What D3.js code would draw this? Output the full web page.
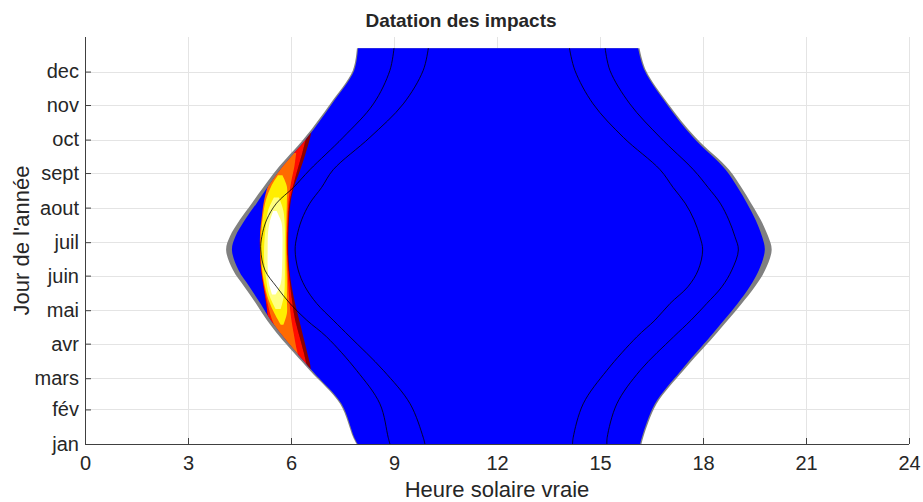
<!DOCTYPE html>
<html>
<head>
<meta charset="utf-8">
<script src="https://cdn.jsdelivr.net/npm/d3@7"></script>
<style>
    body { margin: 0; background: #fff; }
    text { font-family: "Liberation Sans", Arial, Helvetica, sans-serif; fill: #262626; }
</style>
</head>
<body>
<div id="chart"></div>
<script>
// axis ticks
const monthDays = [1, 32, 60, 91, 121, 152, 182, 213, 244, 274, 305, 335];
const monthLabels = ["jan", "fév", "mars", "avr", "mai", "juin", "juil", "aout", "sept", "oct", "nov", "dec"];
const hourTicks = [0, 3, 6, 9, 12, 15, 18, 21, 24];

// day limits (hours) : gray = outer limit, blue = inner limit
const edgeDays = [1, 7, 37, 67, 97, 112, 127, 142, 157, 175, 187, 202, 217, 231, 247, 276, 306, 336, 356];
const grayStart = [7.91, 7.81, 7.43, 6.55, 5.68, 5.30, 4.98, 4.64, 4.31, 4.11, 4.22, 4.51, 4.86, 5.19, 5.58, 6.41, 7.14, 7.80, 7.92];
const blueStart = [7.94, 7.84, 7.47, 6.61, 5.78, 5.41, 5.11, 4.79, 4.47, 4.28, 4.38, 4.66, 5.00, 5.31, 5.68, 6.48, 7.19, 7.84, 7.95];
const grayEnd = [16.21, 16.26, 16.65, 17.43, 18.30, 18.72, 19.13, 19.51, 19.81, 20.00, 19.90, 19.68, 19.40, 19.12, 18.76, 17.78, 16.99, 16.34, 16.15];
const blueEnd = [16.17, 16.22, 16.60, 17.36, 18.20, 18.61, 19.01, 19.36, 19.63, 19.80, 19.72, 19.53, 19.28, 19.01, 18.66, 17.71, 16.94, 16.30, 16.11];

// black contour lines (hours)
const contourDays = [1, 7, 37, 67, 97, 112, 127, 142, 157, 175, 187, 202, 217, 231, 247, 276, 306, 336, 356];
const morning1 = [8.88, 8.83, 8.59, 7.91, 7.04, 6.46, 5.97, 5.58, 5.24, 5.12, 5.15, 5.29, 5.58, 6.07, 6.55, 7.52, 8.40, 8.88, 9.00];
const morning2 = [9.90, 9.85, 9.47, 8.69, 7.72, 7.23, 6.75, 6.41, 6.21, 6.12, 6.17, 6.31, 6.55, 6.89, 7.23, 8.30, 9.27, 9.85, 10.00];
const evening1 = [14.20, 14.22, 14.51, 15.20, 16.07, 16.60, 17.04, 17.56, 17.86, 17.99, 17.91, 17.74, 17.48, 17.13, 16.75, 15.68, 14.80, 14.27, 14.11];
const evening2 = [15.20, 15.21, 15.49, 16.17, 17.14, 17.65, 18.11, 18.55, 18.84, 19.03, 18.93, 18.75, 18.50, 18.15, 17.72, 16.75, 15.87, 15.29, 15.15];

// impacts density, nested levels (1 = low ... 6 = high)
const heatDays1 = [66, 72, 82, 97, 112, 127, 142, 157, 172, 187, 202, 216, 231, 246, 261, 276, 282];
const heatFrom1 = [6.40, 6.20, 5.85, 5.55, 5.35, 5.28, 5.20, 5.13, 5.10, 5.10, 5.16, 5.22, 5.34, 5.52, 5.85, 6.30, 6.45];
const heatTo1 = [6.58, 6.56, 6.48, 6.36, 6.24, 6.12, 6.02, 5.95, 5.92, 5.92, 5.94, 5.98, 6.08, 6.26, 6.42, 6.56, 6.60];

const heatDays2 = [68, 82, 97, 112, 127, 142, 157, 172, 187, 202, 216, 231, 246, 261, 276, 281];
const heatFrom2 = [6.35, 5.85, 5.55, 5.35, 5.28, 5.20, 5.13, 5.10, 5.10, 5.16, 5.22, 5.34, 5.52, 5.85, 6.30, 6.45];
const heatTo2 = [6.48, 6.38, 6.25, 6.12, 6.04, 5.98, 5.93, 5.90, 5.90, 5.92, 5.95, 6.05, 6.18, 6.32, 6.45, 6.52];

const heatDays3 = [76, 88, 100, 115, 130, 145, 160, 175, 190, 205, 220, 235, 250, 262];
const heatFrom3 = [6.15, 5.85, 5.62, 5.42, 5.30, 5.20, 5.13, 5.10, 5.10, 5.15, 5.22, 5.36, 5.60, 5.95];
const heatTo3 = [6.25, 6.15, 6.08, 6.00, 5.95, 5.92, 5.90, 5.88, 5.88, 5.90, 5.93, 6.00, 6.10, 6.15];

const heatDays4 = [108, 118, 130, 145, 160, 175, 190, 205, 220, 232, 242];
const heatFrom4 = [5.70, 5.52, 5.35, 5.22, 5.15, 5.12, 5.13, 5.18, 5.27, 5.42, 5.62];
const heatTo4 = [5.78, 5.88, 5.88, 5.88, 5.87, 5.86, 5.86, 5.87, 5.88, 5.88, 5.75];

const heatDays5 = [122, 135, 150, 165, 180, 195, 210, 222];
const heatFrom5 = [5.55, 5.36, 5.27, 5.22, 5.22, 5.26, 5.33, 5.50];
const heatTo5 = [5.70, 5.80, 5.82, 5.82, 5.82, 5.82, 5.78, 5.65];

const heatDays6 = [135, 145, 160, 175, 190, 200, 210];
const heatFrom6 = [5.45, 5.36, 5.32, 5.32, 5.33, 5.38, 5.48];
const heatTo6 = [5.55, 5.70, 5.74, 5.75, 5.75, 5.72, 5.58];

(function () {
    "use strict";

    const width = 923, height = 502;
    const margin = { left: 85, right: 14, top: 37, bottom: 58 };

    const svg = d3.select("#chart").append("svg")
        .attr("width", width)
        .attr("height", height);

    const x = d3.scaleLinear().domain([0, 24]).range([margin.left, width - margin.right]);
    const y = d3.scaleLinear().domain([1, 366]).range([height - margin.bottom, margin.top]);

    const zip = (days, a, b) => days.map((d, i) => ({ day: d, a: a[i], b: b ? b[i] : null }));

    const band = d3.area()
        .y(d => y(d.day))
        .x0(d => x(d.a))
        .x1(d => x(d.b))
        .curve(d3.curveCatmullRom.alpha(0.5));

    const line = d3.line()
        .y(d => y(d.day))
        .x(d => x(d.a))
        .curve(d3.curveCatmullRom.alpha(0.5));

    // grid
    const grid = svg.append("g").attr("stroke", "#e4e4e4").attr("stroke-width", 1);
    grid.selectAll("line.v").data(hourTicks.slice(1)).enter().append("line")
        .attr("x1", d => Math.round(x(d)) + 0.5).attr("x2", d => Math.round(x(d)) + 0.5)
        .attr("y1", y.range()[1]).attr("y2", y.range()[0]);
    grid.selectAll("line.h").data(monthDays.slice(1)).enter().append("line")
        .attr("y1", d => Math.round(y(d)) + 0.5).attr("y2", d => Math.round(y(d)) + 0.5)
        .attr("x1", x.range()[0]).attr("x2", x.range()[1]);

    // ticks (inward, below data)
    const xAxis = svg.append("g")
        .attr("transform", "translate(0," + y.range()[0] + ")")
        .call(d3.axisBottom(x).tickValues(hourTicks).tickSizeInner(-6).tickSizeOuter(0).tickPadding(12));
    const yAxis = svg.append("g")
        .attr("transform", "translate(" + x.range()[0] + ",0)")
        .call(d3.axisLeft(y).tickValues(monthDays).tickFormat((d, i) => monthLabels[i])
            .tickSizeInner(-6).tickSizeOuter(0).tickPadding(6));
    [xAxis, yAxis].forEach(ax => {
        ax.select(".domain").remove();
        ax.selectAll(".tick line").attr("stroke", "#404040");
        ax.selectAll(".tick text").attr("font-size", 20).attr("fill", "#262626")
            .style("font-family", "'Liberation Sans', Arial, sans-serif");
    });

    // day area
    const edgesGray = zip(edgeDays, grayStart, grayEnd);
    const edgesBlue = zip(edgeDays, blueStart, blueEnd);

    svg.append("path").attr("d", band(edgesGray)).attr("fill", "#808080");
    svg.append("path").attr("d", band(edgesBlue)).attr("fill", "#0000ff");

    svg.append("clipPath").attr("id", "dayClip")
        .append("path").attr("d", band(edgesBlue));

    // density
    const hot = d3.scaleLinear()
        .domain([1, 2, 3, 4, 5, 6])
        .range(["#8c0000", "#ff0a00", "#ff6a00", "#ffee00", "#ffff80", "#ffffff"]);

    const heatLevels = [
        { level: 1, data: zip(heatDays1, heatFrom1, heatTo1) },
        { level: 2, data: zip(heatDays2, heatFrom2, heatTo2) },
        { level: 3, data: zip(heatDays3, heatFrom3, heatTo3) },
        { level: 4, data: zip(heatDays4, heatFrom4, heatTo4) },
        { level: 5, data: zip(heatDays5, heatFrom5, heatTo5) },
        { level: 6, data: zip(heatDays6, heatFrom6, heatTo6) }
    ];

    const defs = svg.append("defs");
    defs.append("filter").attr("id", "soft")
        .append("feGaussianBlur").attr("stdDeviation", 0.7);

    svg.append("g")
        .attr("clip-path", "url(#dayClip)")
        .append("g")
        .attr("filter", "url(#soft)")
        .selectAll("path.heat")
        .data(heatLevels)
        .enter()
        .append("path")
        .attr("class", "heat")
        .attr("d", d => band(d.data))
        .attr("fill", d => hot(d.level));

    // contours
    svg.selectAll("path.contour")
        .data([morning1, morning2, evening1, evening2])
        .enter()
        .append("path")
        .attr("class", "contour")
        .attr("d", d => line(zip(contourDays, d)))
        .attr("fill", "none")
        .attr("stroke", "#000")
        .attr("stroke-width", 0.8);

    // axis lines
    svg.append("line")
        .attr("x1", x.range()[0]).attr("x2", x.range()[1])
        .attr("y1", y.range()[0] + 0.5).attr("y2", y.range()[0] + 0.5)
        .attr("stroke", "#404040");
    svg.append("line")
        .attr("x1", x.range()[0] + 0.5).attr("x2", x.range()[0] + 0.5)
        .attr("y1", y.range()[0]).attr("y2", y.range()[1])
        .attr("stroke", "#404040");

    // labels
    svg.append("text")
        .attr("x", 461).attr("y", 27)
        .attr("text-anchor", "middle")
        .attr("font-size", 19).attr("font-weight", "bold")
        .attr("fill", "#000")
        .text("Datation des impacts");

    svg.append("text")
        .attr("x", (x.range()[0] + x.range()[1]) / 2).attr("y", 497)
        .attr("text-anchor", "middle")
        .attr("font-size", 22)
        .text("Heure solaire vraie");

    svg.append("text")
        .attr("transform", "translate(29," + ((y.range()[0] + y.range()[1]) / 2) + ") rotate(-90)")
        .attr("text-anchor", "middle")
        .attr("font-size", 22)
        .text("Jour de l'année");
})();
</script>
</body>
</html>
